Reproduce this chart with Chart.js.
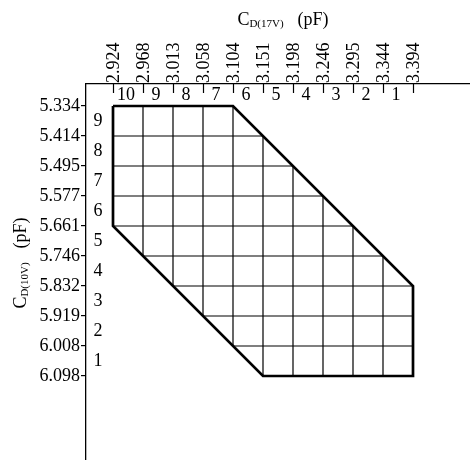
<!DOCTYPE html>
<html>
<head>
<meta charset="utf-8">
<script src="https://cdn.jsdelivr.net/npm/chart.js@4"></script>
<style>
  body { margin: 0; background: #fff; }
  #wrap { width: 470px; height: 460px; }
</style>
</head>
<body>
<div id="wrap"><canvas id="chart"></canvas></div>
<script>
const xTickLabels = ['2.924', '2.968', '3.013', '3.058', '3.104', '3.151', '3.198', '3.246', '3.295', '3.344', '3.394'];
const yTickLabels = ['5.334', '5.414', '5.495', '5.577', '5.661', '5.746', '5.832', '5.919', '6.008', '6.098'];
const colNumbers = ['10', '9', '8', '7', '6', '5', '4', '3', '2', '1'];
const rowNumbers = ['9', '8', '7', '6', '5', '4', '3', '2', '1'];

// outline of the occupied region, in grid steps
const outlineX = [0, 4, 10, 10, 5, 0, 0];
const outlineY = [0, 0, 6, 9, 9, 4, 0];

// extent of every grid line inside the region
const colTop = [0, 0, 0, 0, 0, 1, 2, 3, 4, 5, 6];
const colBottom = [4, 5, 6, 7, 8, 9, 9, 9, 9, 9, 9];
const rowLeft = [0, 0, 0, 0, 0, 1, 2, 3, 4, 5];
const rowRight = [4, 5, 6, 7, 8, 9, 10, 10, 10, 10];

const FONT = 'Liberation Serif, Times New Roman, serif';

function seg(points, width) {
  return {
    data: points,
    showLine: true,
    borderColor: '#000',
    borderWidth: width,
    borderJoinStyle: 'miter',
    pointRadius: 0,
    pointHoverRadius: 0,
    fill: false
  };
}

const datasets = [];
colTop.forEach((t, i) => datasets.push(seg([{ x: i, y: t }, { x: i, y: colBottom[i] }], 1.2)));
rowLeft.forEach((l, j) => datasets.push(seg([{ x: l, y: j }, { x: rowRight[j], y: j }], 1.2)));
datasets.push(seg(outlineX.map((x, k) => ({ x: x, y: outlineY[k] })), 2.7));

function drawSubTitle(ctx, x, y, main, sub, unit) {
  ctx.font = '18px ' + FONT;
  const w1 = ctx.measureText(main).width;
  const w3 = ctx.measureText(unit).width;
  ctx.font = '11px ' + FONT;
  const w2 = ctx.measureText(sub).width;
  const gap = 14;
  let cx = x - (w1 + w2 + gap + w3) / 2;
  ctx.textAlign = 'left';
  ctx.textBaseline = 'alphabetic';
  ctx.font = '18px ' + FONT;
  ctx.fillText(main, cx, y);
  cx += w1;
  ctx.font = '11px ' + FONT;
  ctx.fillText(sub, cx, y + 2);
  cx += w2 + gap;
  ctx.font = '18px ' + FONT;
  ctx.fillText(unit, cx, y);
}

const overlay = {
  id: 'overlay',
  afterDraw(chart) {
    const ctx = chart.ctx;
    const xs = chart.scales.x;
    const ys = chart.scales.y;
    const area = chart.chartArea;
    ctx.save();
    ctx.strokeStyle = '#000';
    ctx.fillStyle = '#000';
    ctx.lineWidth = 1.2;
    // inward tick marks on the top axis
    xTickLabels.forEach((_, i) => {
      const px = Math.round(xs.getPixelForValue(i)) + 0.5;
      ctx.beginPath();
      ctx.moveTo(px, area.top);
      ctx.lineTo(px, area.top + 9);
      ctx.stroke();
    });
    ctx.font = '18px ' + FONT;
    ctx.textAlign = 'center';
    ctx.textBaseline = 'middle';
    colNumbers.forEach((n, i) => {
      ctx.fillText(n, xs.getPixelForValue(i + 0.5) - 2, area.top + 11);
    });
    rowNumbers.forEach((n, j) => {
      ctx.fillText(n, area.left + 12, ys.getPixelForValue(j + 0.5));
    });
    // axis titles
    drawSubTitle(ctx, 283, 25, 'C', 'D(17V)', '(pF)');
    ctx.translate(26, 263);
    ctx.rotate(-Math.PI / 2);
    drawSubTitle(ctx, 0, 0, 'C', 'D(10V)', '(pF)');
    ctx.restore();
  }
};

new Chart(document.getElementById('chart'), {
  type: 'scatter',
  data: { datasets: datasets },
  plugins: [overlay],
  options: {
    responsive: true,
    maintainAspectRatio: false,
    animation: false,
    layout: { padding: 0 },
    plugins: {
      legend: { display: false },
      tooltip: { enabled: false }
    },
    scales: {
      x: {
        type: 'linear',
        position: 'top',
        min: -0.9,
        max: 11.9,
        afterBuildTicks: (s) => { s.ticks = xTickLabels.map((_, i) => ({ value: i })); },
        afterFit: (s) => {
          s.height = 84;
          s.paddingLeft = 0;
          s.paddingRight = 0;
        },
        ticks: {
          callback: (v) => xTickLabels[v],
          minRotation: 90,
          maxRotation: 90,
          autoSkip: false,
          padding: 1,
          labelOffset: 23,
          color: '#000',
          font: { family: FONT, size: 18 }
        },
        grid: { drawOnChartArea: false, drawTicks: false },
        border: { display: true, color: '#000', width: 1.3 }
      },
      y: {
        type: 'linear',
        position: 'left',
        reverse: true,
        min: -22 / 30,
        max: 11.8,
        afterBuildTicks: (s) => { s.ticks = yTickLabels.map((_, i) => ({ value: i })); },
        afterFit: (s) => {
          s.width = 86;
          s.paddingTop = 0;
          s.paddingBottom = 0;
        },
        ticks: {
          callback: (v) => yTickLabels[v],
          autoSkip: false,
          padding: 1,
          color: '#000',
          font: { family: FONT, size: 18 }
        },
        grid: { drawOnChartArea: false, drawTicks: true, tickLength: 5, color: '#000', lineWidth: 1.2 },
        border: { display: true, color: '#000', width: 1.3 }
      }
    }
  }
});
</script>
</body>
</html>
